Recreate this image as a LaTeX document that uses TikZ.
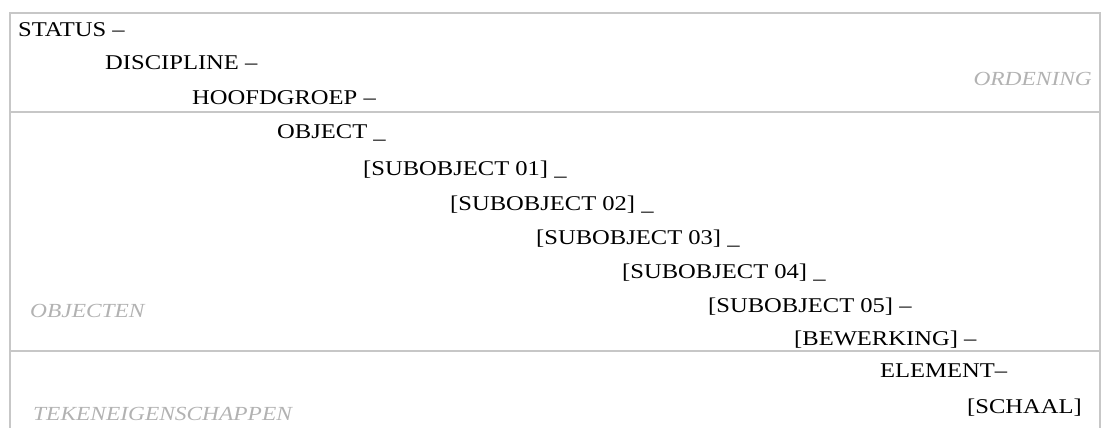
\documentclass[tikz,border=0pt]{standalone}
\usepackage{fontspec}
\setmainfont{Liberation Serif}[FakeStretch=1.17]
\begin{document}
\begin{tikzpicture}[x=1pt,y=-1pt,
  lbl/.style={anchor=base west,inner sep=0pt,font=\fontsize{21}{24}\selectfont,text=black},
  sect/.style={inner sep=0pt,font=\fontsize{20}{24}\selectfont\itshape,text=black!30},
  rule/.style={draw=black!22,line width=1.2pt}]
\useasboundingbox (0,0) rectangle (1104,428);
\coordinate (tl) at (10,13);
\coordinate (tr) at (1100,13);
\coordinate (bl) at (10,428);
\coordinate (br) at (1100,428);
\coordinate (l1) at (10,112);
\coordinate (r1) at (1100,112);
\coordinate (l2) at (10,351);
\coordinate (r2) at (1100,351);
\draw[rule] (bl) -- (tl) -- (tr) -- (br);
\draw[rule] (l1) -- (r1);
\draw[rule] (l2) -- (r2);
\node[lbl] (n1) at (18,37) {STATUS –};
\node[lbl] (n2) at (105,70) {DISCIPLINE –};
\node[lbl] (n3) at (192,104) {HOOFDGROEP –};
\node[lbl] (n4) at (277,139) {OBJECT \_};
\node[lbl] (n5) at (363,175) {[SUBOBJECT 01] \_};
\node[lbl] (n6) at (450,210) {[SUBOBJECT 02] \_};
\node[lbl] (n7) at (536,244) {[SUBOBJECT 03] \_};
\node[lbl] (n8) at (622,278) {[SUBOBJECT 04] \_};
\node[lbl] (n9) at (708,312) {[SUBOBJECT 05] –};
\node[lbl] (n10) at (794,345) {[BEWERKING] –};
\node[lbl] (n11) at (880,377) {ELEMENT–};
\node[lbl] (n12) at (967,413) {[SCHAAL]};
\node[sect,anchor=base east] (s1) at (1092,86) {ORDENING};
\node[sect,anchor=base west] (s2) at (30,317) {OBJECTEN};
\node[sect,anchor=base west] (s3) at (33,420) {TEKENEIGENSCHAPPEN};
\end{tikzpicture}
\end{document}
